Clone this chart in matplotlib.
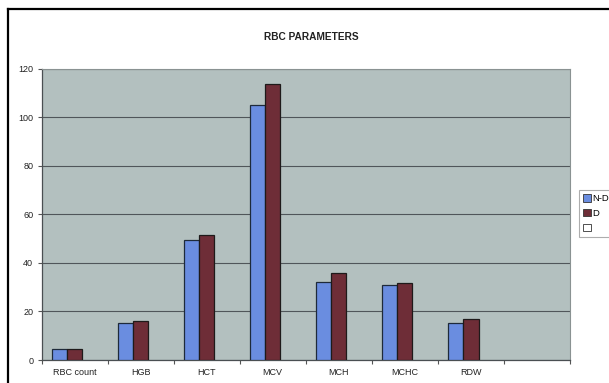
import matplotlib
matplotlib.use("Agg")
import matplotlib.pyplot as plt
from matplotlib.patches import Patch
from matplotlib.lines import Line2D
import numpy as np

plt.rcParams['font.family'] = ['Liberation Sans', 'DejaVu Sans']

categories = ["RBC count", "HGB", "HCT", "MCV", "MCH", "MCHC", "RDW", ""]
series_names = ["N-D", "D", ""]
nd_values = [4.6, 15.1, 49.3, 104.9, 32.1, 30.7, 15.1]
d_values = [4.5, 16.2, 51.6, 113.8, 35.8, 31.9, 16.9]
y_ticks = [0, 20, 40, 60, 80, 100, 120]

W, H = 609, 383
fig = plt.figure(figsize=(W / 100, H / 100), dpi=100)
fig.patch.set_facecolor("white")

# outer chart frame (top and left edges)
fig.add_artist(Line2D([8 / W, 1.0], [1 - 9 / H, 1 - 9 / H], color="black", lw=1.6,
                      transform=fig.transFigure))
fig.add_artist(Line2D([8 / W, 8 / W], [0, 1 - 9 / H], color="black", lw=1.6,
                      transform=fig.transFigure))

ax = fig.add_axes([41.5 / W, 1 - 360 / H, (570 - 41.5) / W, (360 - 68.5) / H])
ax.set_facecolor("#b3c0bf")

x = np.arange(len(categories))
bw = 0.23
blue = "#6a8de0"
maroon = "#6e2d37"
ax.bar(x[:len(nd_values)] - bw, nd_values, width=bw, color=blue,
       edgecolor="#1e2a3a", linewidth=0.9, zorder=3)
ax.bar(x[:len(d_values)], d_values, width=bw, color=maroon,
       edgecolor="#1e1a1a", linewidth=0.9, zorder=3)

ax.set_xlim(-0.5, len(categories) - 0.5)
ax.set_ylim(0, 120)
ax.set_yticks(y_ticks)
ax.set_yticklabels([str(v) for v in y_ticks], fontsize=6.5, color="#222222")
ax.set_xticks(x)
ax.set_xticklabels(categories, fontsize=6.5, color="#222222")
ax.set_xticks(np.arange(len(categories) + 1) - 0.5, minor=True)
ax.tick_params(axis="x", which="major", length=0, pad=6)
ax.tick_params(axis="x", which="minor", length=3, color="#555555", width=0.8)
ax.tick_params(axis="y", length=3, color="#555555", width=0.8, pad=3)

ax.grid(axis="y", color="#50565a", linewidth=0.8, zorder=1)
ax.set_axisbelow(True)
for side in ["top", "right"]:
    ax.spines[side].set_color("#8a9292")
    ax.spines[side].set_linewidth(0.8)
for side in ["left", "bottom"]:
    ax.spines[side].set_color("#4a4f52")
    ax.spines[side].set_linewidth(0.9)

fig.text(311 / W, 1 - 37 / H, "RBC PARAMETERS", ha="center", va="center",
         fontsize=7.3, fontweight="bold", color="#222222")

handles = [Patch(facecolor=blue, edgecolor="#333333", linewidth=0.6),
           Patch(facecolor=maroon, edgecolor="#333333", linewidth=0.6),
           Patch(facecolor="white", edgecolor="#333333", linewidth=0.6)]
leg = fig.legend(handles, series_names, loc="upper left",
                 bbox_to_anchor=(579 / W, 1 - 190 / H), fontsize=6.8,
                 frameon=True, fancybox=False, handlelength=0.8, handleheight=0.8,
                 handletextpad=0.2, borderpad=0.45, labelspacing=0.6,
                 borderaxespad=0)
leg.get_frame().set_edgecolor("#999999")
leg.get_frame().set_linewidth(0.8)

fig.savefig("out.png", dpi=100)
